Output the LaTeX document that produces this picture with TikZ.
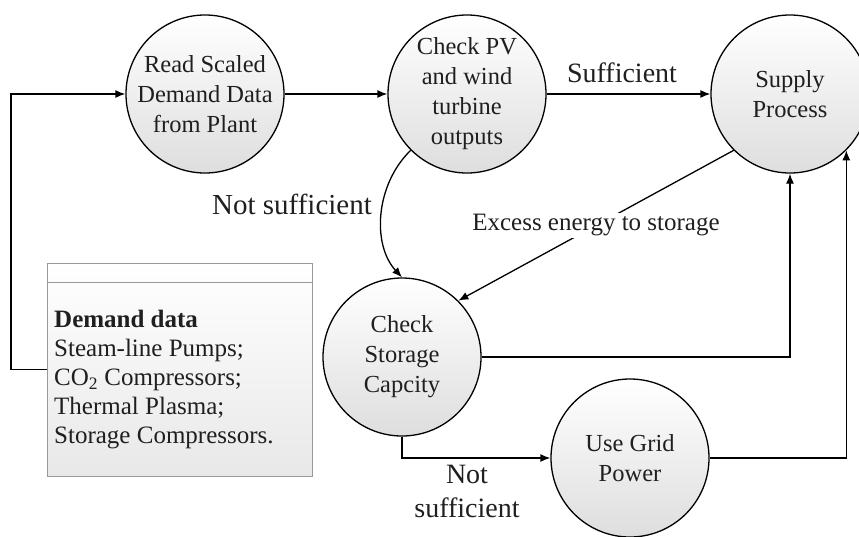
\documentclass[tikz,border=0pt]{standalone}
\usepackage{fontspec}
\setmainfont{Liberation Serif}
\usetikzlibrary{arrows.meta}
\begin{document}
\begin{tikzpicture}[x=1pt,y=-1pt,
  proc/.style={circle, draw=black, line width=1.3pt, minimum size=158pt, inner sep=0pt,
    top color=white, bottom color=black!13, align=center,
    font=\fontsize{24.5}{30}\selectfont, text=black!88},
  conn/.style={line width=1.3pt, -{Latex[length=10pt,width=8pt]}},
  lbl/.style={text=black!88, inner sep=0pt},
  databox/.style={rectangle, draw=black!40, line width=1pt, top color=white, bottom color=black!9,
    minimum width=265pt, minimum height=213pt, inner sep=0pt}
]
\clip (0,0) rectangle (859,536);
\node[proc] (read) at (205,94) {Read Scaled\\Demand Data\\from Plant};
\node[proc] (pv) at (467,94) {Check PV\\and wind\\turbine\\outputs};
\node[proc] (sup) at (790,94) {Supply\\Process};
\node[proc] (st) at (402,357) {Check\\Storage\\Capcity};
\node[proc] (grid) at (630,458) {Use Grid\\Power};
\node[databox] (dd) at (179.5,369.5) {};
\draw[draw=black!40, line width=1pt] ([yshift=-20pt]dd.north west) -- ([yshift=-20pt]dd.north east);
\node[lbl, anchor=north west, align=left, font=\fontsize{25}{29}\selectfont] (ddtext) at (54,310)
  {\textbf{Demand data}\\Steam-line Pumps;\\CO\textsubscript{2} Compressors;\\Thermal Plasma;\\Storage Compressors.};
\coordinate (lc) at (11,94);
\draw[conn] (dd.west) -| (lc) -- (read.west);
\draw[conn] (read) -- (pv);
\draw[conn] (pv) -- (sup);
\node[lbl, font=\fontsize{28}{30}\selectfont] (suff) at (622,73) {Sufficient};
\draw[conn] (pv.225) .. controls (375,185) and (372,245) .. (st.north);
\node[lbl, font=\fontsize{29}{30}\selectfont] (ns1) at (292,204) {Not sufficient};
\draw[conn] (sup.225) -- node[fill=white, text=black!88, inner sep=2pt, font=\fontsize{25}{30}\selectfont] (exc) {Excess energy to storage} (st.45);
\draw[conn] (st.east) -| (sup.south);
\draw[conn] (st.south) |- (grid.west);
\draw[conn] (grid.east) -| (sup.-45);
\node[lbl, align=center, font=\fontsize{28}{34}\selectfont] (ns2) at (467,491) {Not\\sufficient};
\end{tikzpicture}
\end{document}
